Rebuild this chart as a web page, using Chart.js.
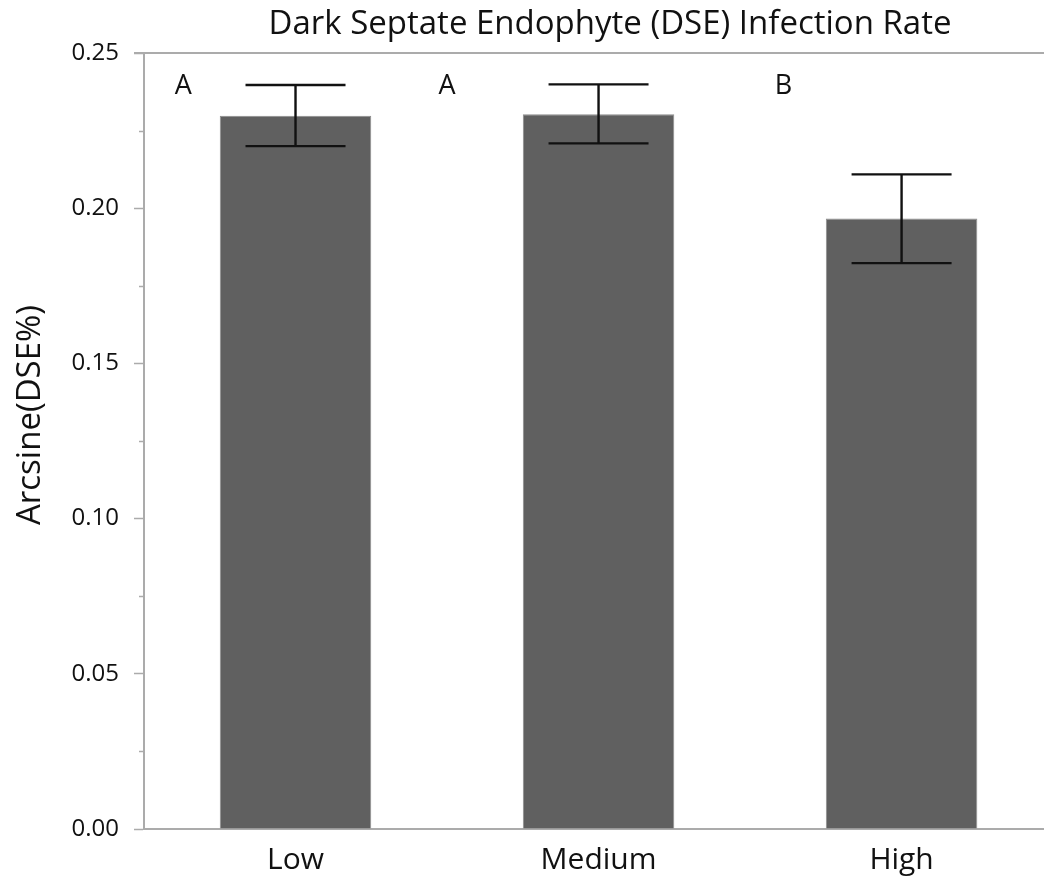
<!DOCTYPE html>
<html>
<head>
<meta charset="utf-8">
<script src="https://cdn.jsdelivr.net/npm/chart.js@4/dist/chart.umd.min.js"></script>
<style>
  html, body { margin: 0; padding: 0; background: #ffffff; }
  #wrap { position: relative; width: 1044px; height: 880px; }
</style>
</head>
<body>
<div id="wrap"><canvas id="chart" width="1044" height="880"></canvas></div>
<script>
// Infection level groups and arcsine-transformed DSE rates
const categories = ['Low', 'Medium', 'High'];
const meanValues = [0.2298, 0.2303, 0.1967];
const errorUpper = [0.2397, 0.2399, 0.2109];
const errorLower = [0.2200, 0.2209, 0.1823];
const groupLetters = ['A', 'A', 'B'];
const yTickValues = [0, 0.05, 0.10, 0.15, 0.20, 0.25];

const chartTitle = 'Dark Septate Endophyte (DSE) Infection Rate';
const yAxisTitle = 'Arcsine(DSE%)';

const FONT = '"Open Sans", "DejaVu Sans", sans-serif';
const AXIS_GREY = '#ababab';

// where the significance letters sit, in x-axis units relative to each bar centre
const letterOffsets = [-0.37, -0.50, -0.39];

const decorations = {
  id: 'decorations',
  afterDatasetsDraw(chart) {
    const { ctx, chartArea } = chart;
    const x = chart.scales.x, y = chart.scales.y;
    ctx.save();

    // frame line along the top of the plot
    ctx.strokeStyle = AXIS_GREY;
    ctx.lineWidth = 2;
    ctx.beginPath();
    ctx.moveTo(chartArea.left - 10, y.getPixelForValue(0.25));
    ctx.lineTo(chart.width, y.getPixelForValue(0.25));
    ctx.stroke();

    // minor ticks halfway between labelled ticks
    ctx.lineWidth = 1.5;
    for (let i = 0; i < yTickValues.length - 1; i++) {
      const v = (yTickValues[i] + yTickValues[i + 1]) / 2;
      const py = Math.round(y.getPixelForValue(v)) + 0.5;
      ctx.beginPath();
      ctx.moveTo(chartArea.left - 5, py);
      ctx.lineTo(chartArea.left, py);
      ctx.stroke();
    }

    // error bars
    ctx.strokeStyle = '#111111';
    ctx.lineWidth = 2.4;
    const capHalf = 50;
    categories.forEach((c, i) => {
      const cx = x.getPixelForValue(i);
      const top = y.getPixelForValue(errorUpper[i]);
      const bot = y.getPixelForValue(errorLower[i]);
      ctx.beginPath();
      ctx.moveTo(cx, top); ctx.lineTo(cx, bot);
      ctx.moveTo(cx - capHalf, top); ctx.lineTo(cx + capHalf, top);
      ctx.moveTo(cx - capHalf, bot); ctx.lineTo(cx + capHalf, bot);
      ctx.stroke();
    });

    // significance letters
    ctx.fillStyle = '#111111';
    ctx.font = '27px ' + FONT;
    ctx.textAlign = 'center';
    ctx.textBaseline = 'middle';
    groupLetters.forEach((t, i) => {
      ctx.fillText(t, x.getPixelForValue(i + letterOffsets[i]), y.getPixelForValue(0.2393));
    });

    // chart title
    ctx.font = '33px ' + FONT;
    ctx.fillText(chartTitle, 610, 25);

    // y-axis title
    ctx.font = '33px ' + FONT;
    ctx.translate(31, 415);
    ctx.rotate(-Math.PI / 2);
    ctx.fillText(yAxisTitle, 0, 0);

    ctx.restore();
  }
};

new Chart(document.getElementById('chart'), {
  type: 'bar',
  data: {
    datasets: [{
      data: meanValues.map((v, i) => ({ x: i, y: v })),
      backgroundColor: '#606060',
      borderColor: '#8c8c8c',
      borderWidth: 1,
      barPercentage: 0.5,
      categoryPercentage: 1.0
    }]
  },
  options: {
    responsive: false,
    animation: false,
    devicePixelRatio: 1,
    layout: { padding: { top: 53, right: 0, left: 0, bottom: 0 } },
    plugins: { legend: { display: false }, tooltip: { enabled: false }, title: { display: false } },
    scales: {
      x: {
        type: 'linear',
        offset: false,
        min: -0.5,
        max: 2.47,
        afterBuildTicks(scale) { scale.ticks = categories.map((c, i) => ({ value: i })); },
        afterFit(scale) { scale.height = 51; },
        ticks: {
          callback: (v) => categories[v] ?? '',
          color: '#111111',
          font: { family: FONT, size: 30 },
          padding: 13,
          maxRotation: 0,
          autoSkip: false
        },
        grid: { display: true, drawOnChartArea: false, drawTicks: false },
        border: { display: true, color: AXIS_GREY, width: 2 }
      },
      y: {
        min: 0,
        max: 0.25,
        afterBuildTicks(scale) { scale.ticks = yTickValues.map(v => ({ value: v })); },
        afterFit(scale) { scale.width = 144; },
        ticks: {
          callback: (v) => v.toFixed(2),
          color: '#111111',
          font: { family: FONT, size: 24 },
          padding: 15,
          autoSkip: false
        },
        grid: { display: true, drawOnChartArea: false, drawTicks: true, tickLength: 10, tickColor: AXIS_GREY, tickWidth: 1.5 },
        border: { display: true, color: AXIS_GREY, width: 2 }
      }
    }
  },
  plugins: [decorations]
});
</script>
</body>
</html>
